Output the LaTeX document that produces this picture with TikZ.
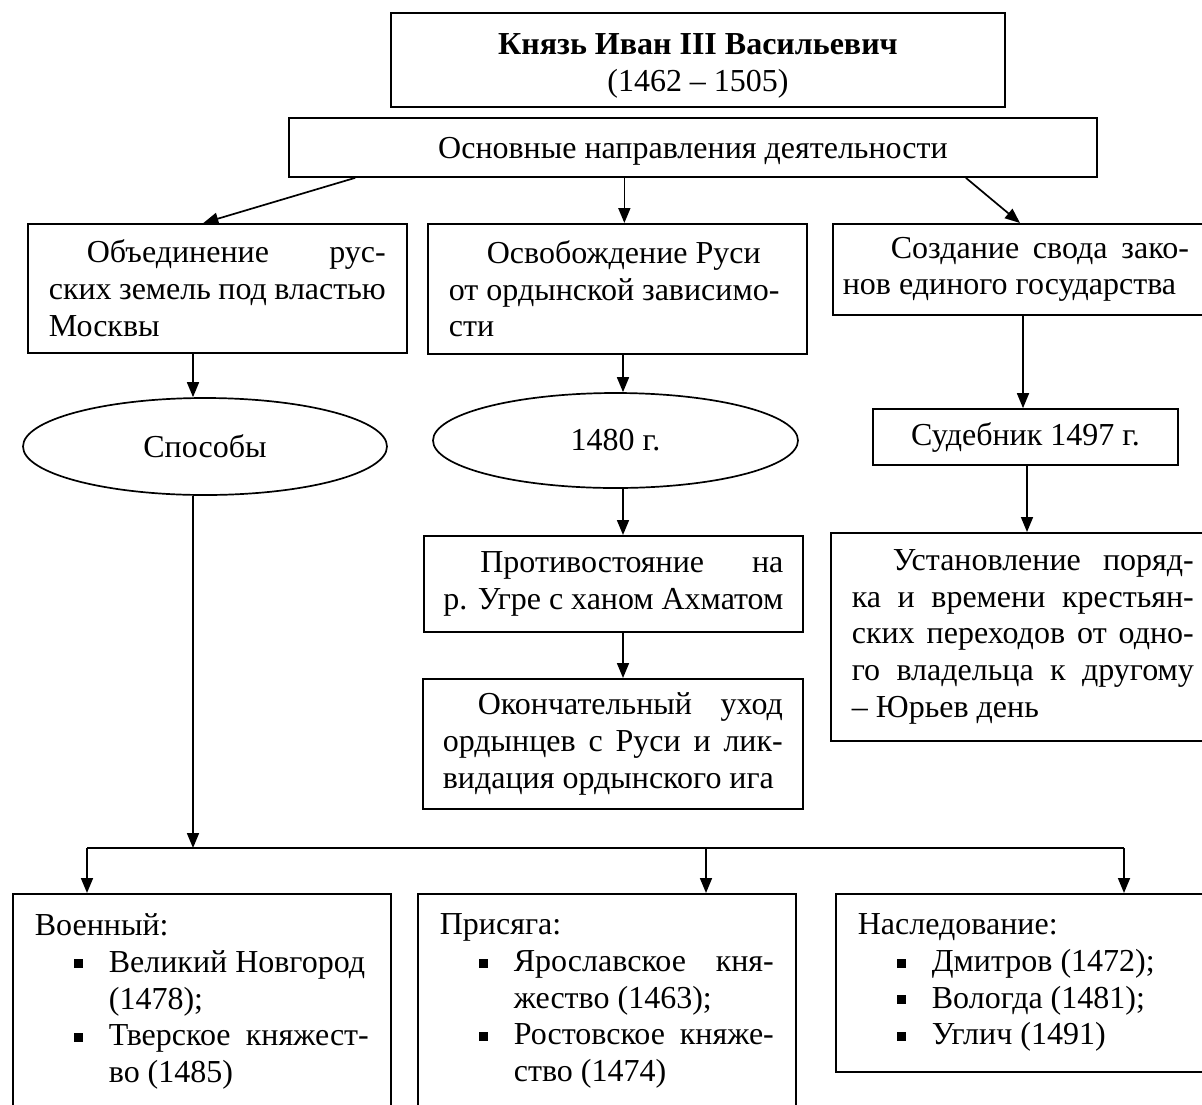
\documentclass[tikz,border=0pt]{standalone}
\usepackage{fontspec}
\setmainfont{Liberation Serif}
\usetikzlibrary{arrows.meta, shapes.geometric}
\tolerance=10000
\hbadness=10000

\newcommand{\sqbullet}{\rule[4pt]{9pt}{9pt}}
\newenvironment{places}{%
  \begin{list}{\sqbullet}{%
    \setlength{\leftmargin}{74pt}\setlength{\labelwidth}{9pt}%
    \setlength{\labelsep}{26pt}\setlength{\itemsep}{0pt}%
    \setlength{\topsep}{0pt}\setlength{\parsep}{0pt}%
    \setlength{\partopsep}{0pt}}}%
  {\end{list}}

\begin{document}
\begin{tikzpicture}[x=1pt, y=-1pt, >={Triangle[length=15pt, width=12pt]}]
  \tikzset{
   every node/.style={font=\fontsize{32pt}{36.7pt}\selectfont},
   box/.style={draw, rectangle, line width=1.7pt, inner ysep=0pt},
   para/.style={box, anchor=north west, align=justify, inner xsep=21pt},
   list/.style={para, text width=334pt, inner xsep=22pt, inner ysep=20pt},
   oval/.style={draw, ellipse, line width=1.7pt, inner sep=0pt},
   link/.style={line width=1.7pt},
  }
  \useasboundingbox (0,0) rectangle (1202,1104);
  \clip (0,0) rectangle (1202,1104);

  % head
  \node [box, align=center, text height=70pt, minimum width=614pt, minimum height=94pt] (prince) at (698, 60)
   {\textbf{Князь Иван III Васильевич}\\(1462 – 1505)};
  \node [box, text height=28pt, minimum width=808pt, minimum height=59pt] (dir) at (693, 147.5)
   {Основные направления деятельности};

  % three directions
  \node [para, text width=337pt, minimum height=129pt] (unite) at (27, 223)
   {\hspace*{38pt}Объединение рус-\linebreak ских земель под властью\linebreak Москвы};
  \node [para, text width=337pt, minimum height=130pt] (free) at (427, 223)
   {\hspace*{38pt}Освобождение Руси\\от ордынской зависимо-\\сти};
  \node [box, anchor=north west, inner xsep=10pt, minimum height=91pt] (laws) at (832, 223)
   {\parbox{346pt}{\hspace*{48pt}Создание свода зако-\linebreak нов единого государства}\hspace*{30pt}};

  \node [oval, minimum width=364pt, minimum height=97pt] (ways) at (205, 446.5) {Способы};
  \node [oval, minimum width=365pt, minimum height=95pt] (year) at (615.5, 440.5) {1480 г.};
  \node [box, minimum width=305pt, minimum height=56pt] (code) at (1025.5, 437) {Судебник 1497 г.};

  \node [para, text width=340pt, inner xsep=19.5pt, minimum height=96pt] (stand) at (423, 535)
   {\hspace*{37pt}Противостояние на\linebreak р. Угре с ханом Ахматом};
  \node [para, text width=340pt, inner xsep=20pt, minimum height=130pt] (yoke) at (422, 678)
   {\hspace*{35pt}Окончательный уход\linebreak ордынцев с Руси и лик-\linebreak видация ордынского ига};
  \node [para, text width=342pt, minimum height=208pt] (order) at (830, 532)
   {\hspace*{41pt}Установление поряд-\linebreak ка и времени крестьян-\linebreak ских переходов от одно-\linebreak го владельца к другому\linebreak – Юрьев день};

  % ways of joining
  \node [list] (war) at (12, 893)
   {Военный:\begin{places}\item Великий Новгород\\(1478);\item Тверское княжест-\linebreak во (1485)\end{places}\rule{0pt}{90pt}};
  \node [list] (oath) at (417, 893)
   {Присяга:\begin{places}\item Ярославское кня-\linebreak жество (1463);\item Ростовское княже-\linebreak ство (1474)\end{places}\rule{0pt}{90pt}};
  \node [list] (inherit) at (835, 893)
   {Наследование:\begin{places}\item Дмитров (1472);\item Вологда (1481);\item Углич (1491)\end{places}};

  % arrows
  \draw [link, ->] ([xshift=67pt]dir.south west) -- ([xshift=-14pt]unite.north);
  \draw [link, ->] ([xshift=7pt]free.north |- dir.south) -- ([xshift=7pt]free.north);
  \draw [link, ->] ([xshift=-132pt]dir.south east) -- ([xshift=188pt]laws.north west);

  \foreach \a/\b/\x in {unite/ways/193, free/year/623, year/stand/623,
                        stand/yoke/623, laws/code/1023, code/order/1027}
   \draw [link, ->] (\a.south -| \x,0) -- (\b.north -| \x,0);

  \coordinate (bus) at (0, 848);
  \draw [link, ->] ([xshift=-12pt]ways.south) -- ([xshift=-12pt]ways.south |- bus);
  \draw [link] ([xshift=75pt]war.north west |- bus) -- ([xshift=289pt]inherit.north west |- bus);
  \foreach \n/\dx in {war/75, oath/289, inherit/289}
   \draw [link, ->] ([xshift=\dx pt]\n.north west |- bus) -- ([xshift=\dx pt]\n.north west);
\end{tikzpicture}
\end{document}
